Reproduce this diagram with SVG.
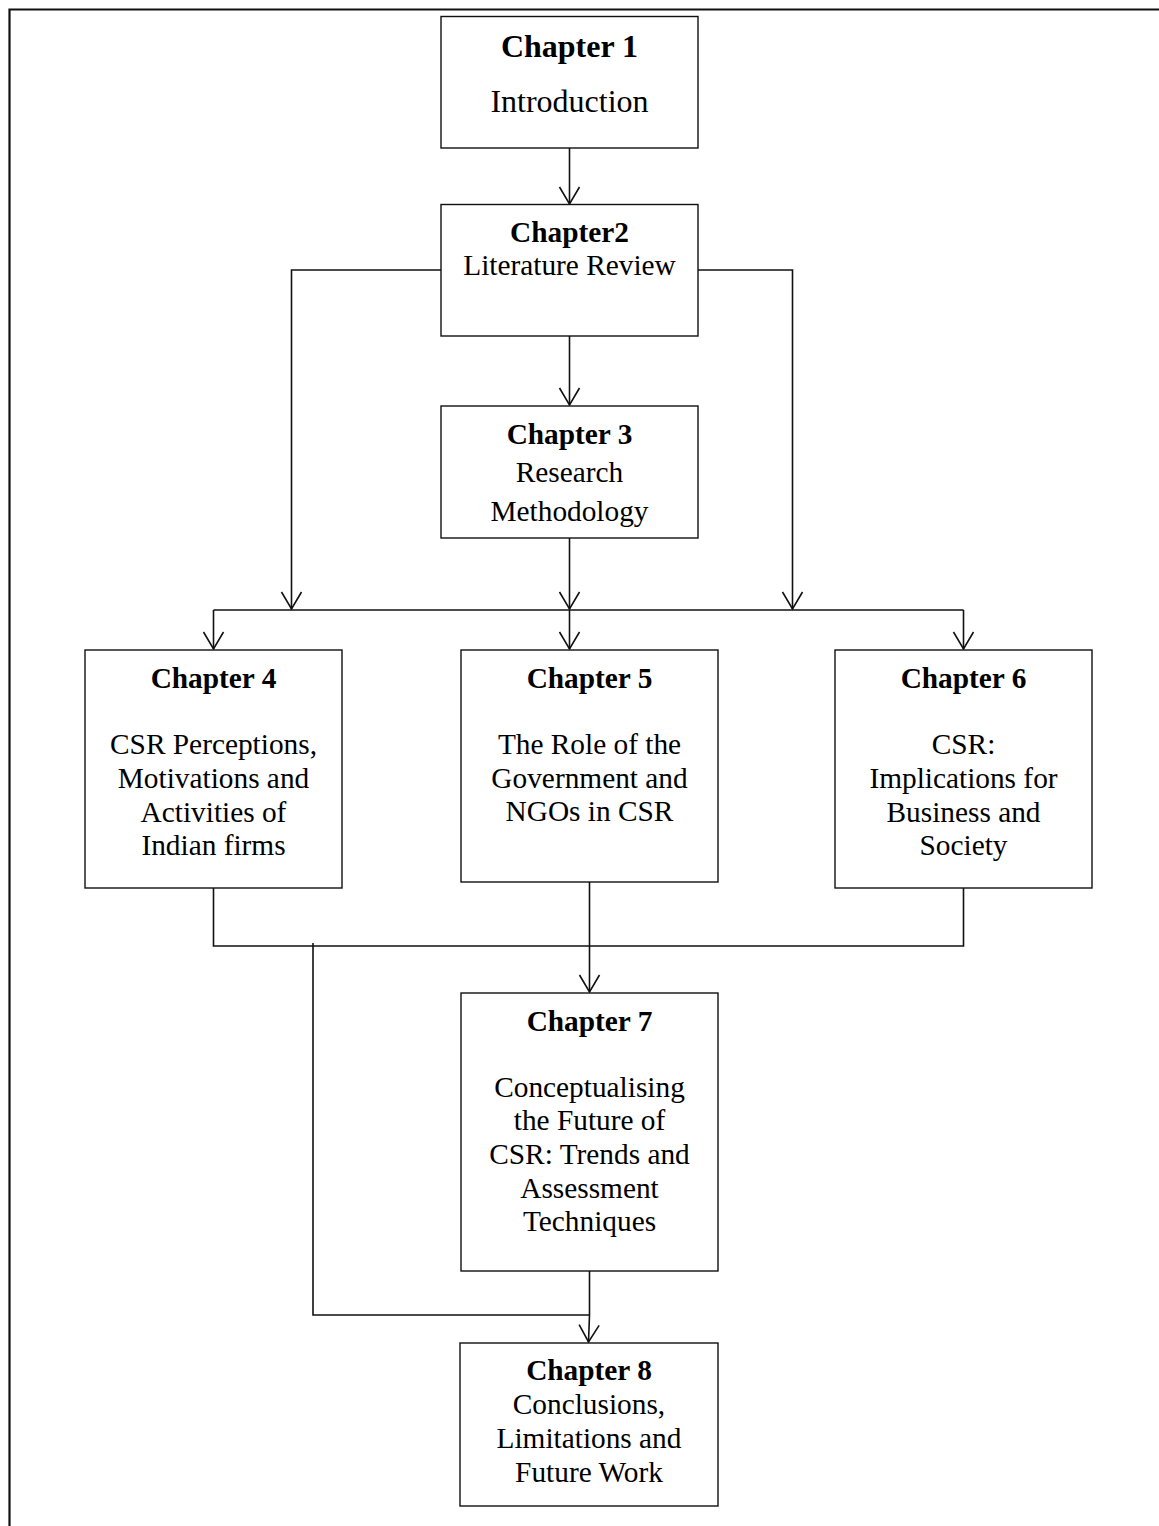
<svg xmlns="http://www.w3.org/2000/svg" width="1159" height="1526" viewBox="0 0 1159 1526">
  <style>
    .box { fill: #ffffff; stroke: #111111; stroke-width: 1.4; }
    .conn { fill: none; stroke: #111111; stroke-width: 1.6; }
    text { font-family: "Liberation Serif", "Times New Roman", serif; font-size: 29.33px; fill: #000000; text-anchor: middle; }
    .hd { font-weight: bold; }
    .lg { font-size: 32px; }
  </style>
  <defs>
    <marker id="arrow" markerUnits="userSpaceOnUse" viewBox="0 0 18 22" refX="17" refY="11" markerWidth="18" markerHeight="22" orient="auto" overflow="visible">
      <path d="M0,1 L17,11 L0,21" fill="none" stroke="#111111" stroke-width="1.6"/>
    </marker>
  </defs>

  <rect width="1159" height="1526" fill="#ffffff"/>
  <!-- page frame (open at right and bottom) -->
  <path d="M9.5,1526 V9.5 H1159" fill="none" stroke="#111111" stroke-width="2.2"/>

  <g id="connectors">
    <path class="conn" d="M569.5,148 V204" marker-end="url(#arrow)"/>
    <path class="conn" d="M569.5,336 V405" marker-end="url(#arrow)"/>
    <path class="conn" d="M441,270 H291.5 V609" marker-end="url(#arrow)"/>
    <path class="conn" d="M698,270 H792.5 V609" marker-end="url(#arrow)"/>
    <path class="conn" d="M569.5,538 V609" marker-end="url(#arrow)"/>
    <path class="conn" d="M213.5,610 H963.5"/>
    <path class="conn" d="M213.5,610 V649" marker-end="url(#arrow)"/>
    <path class="conn" d="M569.5,610 V649" marker-end="url(#arrow)"/>
    <path class="conn" d="M963.5,610 V649" marker-end="url(#arrow)"/>
    <path class="conn" d="M213.5,888 V946 H963.5 V888"/>
    <path class="conn" d="M589.5,882 V992" marker-end="url(#arrow)"/>
    <path class="conn" d="M313,943 V1315 H590"/>
    <path class="conn" d="M589.5,1271 V1315 L588.5,1342" marker-end="url(#arrow)"/>
  </g>

  <g id="chapter1">
    <rect class="box" x="441" y="16.5" width="257" height="131.5"/>
    <text class="hd lg" x="569.5" y="57">Chapter 1</text>
    <text class="lg" x="569.5" y="112">Introduction</text>
  </g>

  <g id="chapter2">
    <rect class="box" x="441" y="204.5" width="257" height="131.5"/>
    <text class="hd" x="569.5" y="242">Chapter2</text>
    <text x="569.5" y="275">Literature Review</text>
  </g>

  <g id="chapter3">
    <rect class="box" x="441" y="406" width="257" height="132"/>
    <text class="hd" x="569.5" y="444">Chapter 3</text>
    <text x="569.5" y="482">Research</text>
    <text x="569.5" y="521">Methodology</text>
  </g>

  <g id="chapter4">
    <rect class="box" x="85" y="650" width="257" height="238"/>
    <text class="hd" x="213.5" y="688">Chapter 4</text>
    <text x="213.5" y="754">CSR Perceptions,</text>
    <text x="213.5" y="788">Motivations and</text>
    <text x="213.5" y="822">Activities of</text>
    <text x="213.5" y="855">Indian firms</text>
  </g>

  <g id="chapter5">
    <rect class="box" x="461" y="650" width="257" height="232"/>
    <text class="hd" x="589.5" y="688">Chapter 5</text>
    <text x="589.5" y="754">The Role of the</text>
    <text x="589.5" y="788">Government and</text>
    <text x="589.5" y="821">NGOs in CSR</text>
  </g>

  <g id="chapter6">
    <rect class="box" x="835" y="650" width="257" height="238"/>
    <text class="hd" x="963.5" y="688">Chapter 6</text>
    <text x="963.5" y="754">CSR:</text>
    <text x="963.5" y="788">Implications for</text>
    <text x="963.5" y="822">Business and</text>
    <text x="963.5" y="855">Society</text>
  </g>

  <g id="chapter7">
    <rect class="box" x="461" y="993" width="257" height="278"/>
    <text class="hd" x="589.5" y="1031">Chapter 7</text>
    <text x="589.5" y="1097">Conceptualising</text>
    <text x="589.5" y="1130">the Future of</text>
    <text x="589.5" y="1164">CSR: Trends and</text>
    <text x="589.5" y="1198">Assessment</text>
    <text x="589.5" y="1231">Techniques</text>
  </g>

  <g id="chapter8">
    <rect class="box" x="460" y="1343" width="258" height="163"/>
    <text class="hd" x="589" y="1380">Chapter 8</text>
    <text x="589" y="1414">Conclusions,</text>
    <text x="589" y="1448">Limitations and</text>
    <text x="589" y="1482">Future Work</text>
  </g>
</svg>
